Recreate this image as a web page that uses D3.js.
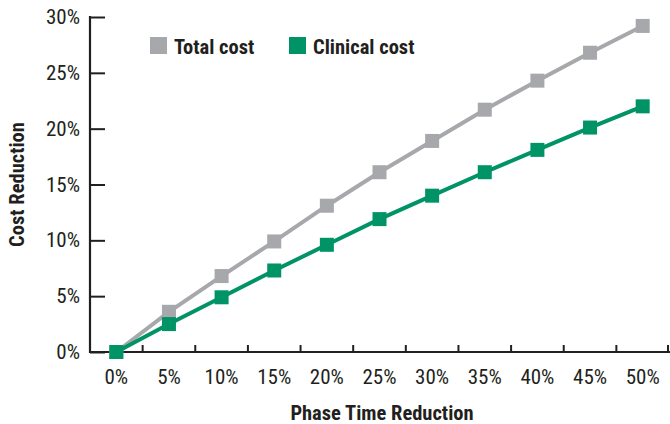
<!DOCTYPE html>
<html>
<head>
<meta charset="utf-8">
<script src="https://cdn.jsdelivr.net/npm/d3@7"></script>
<style>
  html, body { margin: 0; padding: 0; background: #fff; }
  svg { display: block; }
  text { font-family: "Liberation Sans Narrow", "Arial Narrow", "Roboto Condensed", "Liberation Sans", sans-serif; fill: #231f20; }
</style>
</head>
<body>
<svg id="chart" width="670" height="424"></svg>
<script>
// Phase time reduction categories and resulting cost reductions (%)
const phaseLabels = ["0%", "5%", "10%", "15%", "20%", "25%", "30%", "35%", "40%", "45%", "50%"];
const totalCost = [0, 3.6, 6.8, 9.9, 13.1, 16.1, 18.9, 21.7, 24.3, 26.8, 29.2];
const clinicalCost = [0, 2.5, 4.9, 7.3, 9.6, 11.9, 14.0, 16.1, 18.1, 20.1, 22.0];
const yTicks = [0, 5, 10, 15, 20, 25, 30];

const seriesNames = ["Total cost", "Clinical cost"];
const seriesColors = ["#a7a8ab", "#009366"];
const seriesValues = [totalCost, clinicalCost];

const svg = d3.select("#chart");
const margin = { left: 90, right: 1, top: 17, bottom: 72 };
const W = 670, H = 424;

const x = d3.scaleBand().domain(phaseLabels).range([margin.left, W - margin.right]);
const y = d3.scaleLinear().domain([0, 30]).range([H - margin.bottom, margin.top]);

const axisColor = "#231f20";

// Y axis with inward ticks
const yAxis = svg.append("g")
  .attr("transform", `translate(${margin.left},0)`)
  .call(d3.axisRight(y).tickValues(yTicks).tickSize(15).tickFormat(""));
yAxis.select(".domain").remove();
yAxis.selectAll(".tick line").attr("stroke", axisColor).attr("stroke-width", 2);
svg.append("line")
  .attr("x1", margin.left).attr("x2", margin.left)
  .attr("y1", y(30) - 1).attr("y2", y(0) + 1)
  .attr("stroke", axisColor).attr("stroke-width", 2.2);

svg.append("g").selectAll("text").data(yTicks).join("text")
  .attr("x", 80).attr("y", d => y(d) + 7)
  .attr("text-anchor", "end")
  .attr("font-size", 21)
  .text(d => d + "%");

// X axis: ticks at band boundaries, pointing up
const xBottom = y(0);
svg.append("line")
  .attr("x1", margin.left - 1).attr("x2", W)
  .attr("y1", xBottom).attr("y2", xBottom)
  .attr("stroke", axisColor).attr("stroke-width", 2.2);
const boundaries = phaseLabels.slice(1).map(d => x(d));
boundaries.push(x(phaseLabels[phaseLabels.length - 1]) + x.bandwidth() - 1);
svg.append("g").selectAll("line").data(boundaries).join("line")
  .attr("x1", d => d).attr("x2", d => d)
  .attr("y1", xBottom).attr("y2", xBottom - 7)
  .attr("stroke", axisColor).attr("stroke-width", 2);

svg.append("g").selectAll("text").data(phaseLabels).join("text")
  .attr("x", d => x(d) + x.bandwidth() / 2)
  .attr("y", 384)
  .attr("text-anchor", "middle")
  .attr("font-size", 21)
  .text(d => d);

// Axis titles
svg.append("text")
  .attr("x", 382).attr("y", 420)
  .attr("text-anchor", "middle")
  .attr("font-size", 20.5).attr("font-weight", "bold")
  .text("Phase Time Reduction");
svg.append("text")
  .attr("transform", `translate(24,${(y(0) + y(30)) / 2}) rotate(-90)`)
  .attr("text-anchor", "middle")
  .attr("font-size", 20.5).attr("font-weight", "bold")
  .text("Cost Reduction");

// Lines and square markers
const cx = d => x(d) + x.bandwidth() / 2;
const line = d3.line().x((v, i) => cx(phaseLabels[i])).y(v => y(v));
const sq = 14;

seriesValues.forEach((vals, s) => {
  const g = svg.append("g");
  g.append("path")
    .attr("d", line(vals))
    .attr("fill", "none")
    .attr("stroke", seriesColors[s])
    .attr("stroke-width", 4);
  g.selectAll("rect").data(vals).join("rect")
    .attr("x", (v, i) => cx(phaseLabels[i]) - sq / 2)
    .attr("y", v => y(v) - sq / 2)
    .attr("width", sq).attr("height", sq)
    .attr("fill", seriesColors[s]);
});

// Legend
const legendX = [150, 289];
const legend = svg.append("g");
seriesNames.forEach((name, i) => {
  legend.append("rect")
    .attr("x", legendX[i]).attr("y", 37)
    .attr("width", 17).attr("height", 17)
    .attr("fill", seriesColors[i]);
  legend.append("text")
    .attr("x", legendX[i] + 24).attr("y", 54)
    .attr("font-size", 20.5).attr("font-weight", "bold")
    .text(name);
});
</script>
</body>
</html>
